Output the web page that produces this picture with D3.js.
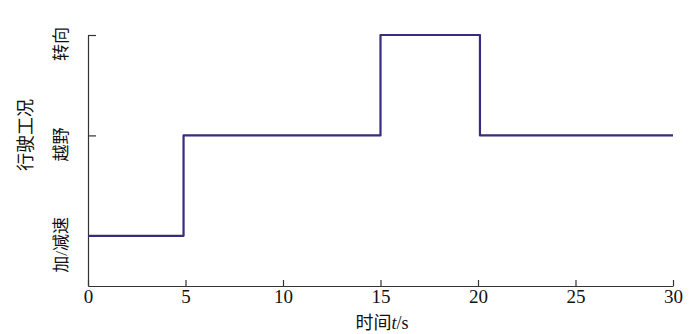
<!DOCTYPE html>
<html>
<head>
<meta charset="utf-8">
<script src="https://cdn.jsdelivr.net/npm/d3@7"></script>
<style>
  body { margin: 0; background: #fff; }
  text { font-family: "Liberation Serif", "Noto Sans CJK SC", serif; fill: #111; }
  .axis path, .axis line { stroke: #333; stroke-width: 1.2px; }
</style>
</head>
<body>
<svg id="chart" width="700" height="334"></svg>
<script>
// step times (s) and the driving condition held from each time on
var times = [0, 4.9, 15, 20.1, 30];
var states = [1, 2, 3, 2, 2];

// condition levels and their labels
var levels = [1, 2, 3];
var levelNames = ["加/减速", "越野", "转向"];

var xTicks = [0, 5, 10, 15, 20, 25, 30];

var svg = d3.select("#chart");

// scales
var x = d3.scaleLinear().domain([0, 30]).range([88, 673]);
var y = d3.scaleLinear().domain([0.5, 3]).range([286, 35]);

// x axis, ticks pointing inward
var xaxis = svg.append("g")
  .attr("class", "axis")
  .attr("transform", "translate(0," + y(0.5) + ")")
  .call(d3.axisBottom(x).tickValues(xTicks).tickSizeInner(-6).tickSizeOuter(0).tickFormat(d3.format("d")));
xaxis.selectAll("text")
  .attr("y", 17)
  .attr("dy", 0)
  .style("font-size", "19px");

// y axis, ticks pointing inward, labels drawn rotated
var yaxis = svg.append("g")
  .attr("class", "axis")
  .attr("transform", "translate(" + x(0) + ",0)")
  .call(d3.axisLeft(y).tickValues(levels).tickSizeInner(-8).tickSizeOuter(0).tickFormat(""));

svg.selectAll("text.level")
  .data(levels)
  .enter().append("text")
  .attr("class", "level")
  .attr("text-anchor", "middle")
  .attr("transform", (d) => { return "translate(67," + (y(d) + 9) + ")rotate(-90)"; })
  .style("font-size", "17px")
  .text((d, i) => { return levelNames[i]; });

// axis titles
svg.append("text")
  .attr("text-anchor", "middle")
  .attr("transform", "translate(" + 32 + "," + 135 + ")rotate(-90)")
  .style("font-size", "18px")
  .text("行驶工况");

var title = svg.append("text")
  .attr("text-anchor", "middle")
  .attr("x", 382)
  .attr("y", 329)
  .style("font-size", "18px");
title.append("tspan").text("时间");
title.append("tspan").style("font-style", "italic").text("t");
title.append("tspan").text("/s");

// step line
var line = d3.line()
  .x((d) => { return x(d[0]); })
  .y((d) => { return y(d[1]); })
  .curve(d3.curveStepAfter);

svg.append("path")
  .datum(d3.zip(times, states))
  .attr("fill", "none")
  .attr("stroke", "#3b2b7b")
  .attr("stroke-width", 2.2)
  .attr("stroke-linejoin", "round")
  .attr("d", line);
</script>
</body>
</html>
